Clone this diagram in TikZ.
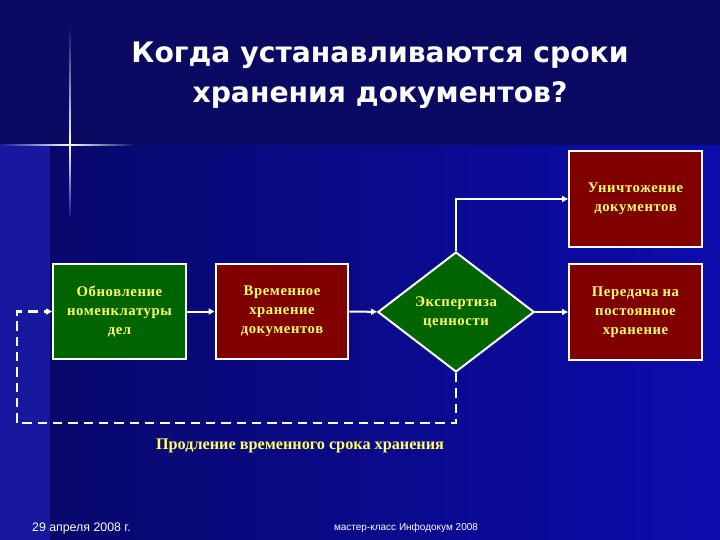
\documentclass[tikz,border=0pt]{standalone}
\usepackage{fontspec}
\setmainfont{Liberation Serif}
\newfontfamily\titlefont{DejaVu Sans}
\newfontfamily\footfont{Liberation Sans}
\newfontfamily\boxfont[LetterSpace=4]{Liberation Serif}
\usepackage{tikz}
\usetikzlibrary{calc,positioning,shapes.geometric,arrows.meta}
\definecolor{navytop}{RGB}{10,10,98}
\definecolor{navydark}{RGB}{8,8,108}
\definecolor{navybright}{RGB}{12,12,172}
\definecolor{stripblue}{RGB}{24,24,158}
\definecolor{boxgreen}{RGB}{0,100,0}
\definecolor{boxred}{RGB}{128,0,0}
\definecolor{textyellow}{RGB}{255,255,102}
\tikzset{
  box/.style={rectangle,draw=white,line width=1.7pt,minimum width=113pt,minimum height=81pt,
    inner sep=2pt,align=center,text=textyellow,font=\boxfont\bfseries\fontsize{12.5}{16}\selectfont},
  greenbox/.style={box,fill=boxgreen},
  redbox/.style={box,fill=boxred},
  decision/.style={diamond,draw=white,line width=1.7pt,fill=boxgreen,aspect=1.3,inner sep=0pt,
    minimum width=133pt,minimum height=102pt,align=center,text=textyellow,
    font=\boxfont\bfseries\fontsize{12.5}{16}\selectfont},
  arr/.style={draw=white,line width=1.7pt,-{Triangle[length=5pt,width=5pt]}},
  loopline/.style={draw=white,line width=2.3pt,dash pattern=on 8pt off 5pt,-{Triangle[length=5pt,width=5pt]}}
}
\begin{document}
\begin{tikzpicture}[x=0.85pt,y=-0.85pt]
\useasboundingbox (0,0) rectangle (720,540);
\fill[navytop] (0,0) rectangle (720,540);
\fill[stripblue] (0,145) rectangle (50,540);
\shade[left color=navydark,right color=navybright] (50,145) rectangle (720,540);
\shade[top color=navytop,bottom color=white] (69.3,25) rectangle (70.7,145);
\shade[top color=white,bottom color=stripblue] (69.3,145) rectangle (70.7,215);
\shade[left color=stripblue,right color=white] (0,144.3) rectangle (70,145.7);
\shade[left color=white,right color=navydark] (70,144.3) rectangle (135,145.7);

\node[text=white,font=\titlefont\bfseries\fontsize{24}{34}\selectfont,align=center] (title) at (380,75)
  {Когда устанавливаются сроки\\хранения документов?};

\node[greenbox] (obn) at (119.5,311.5) {Обновление\\номенклатуры\\дел};
\node[redbox] (vrem) at (282,311.5) {Временное\\хранение\\документов};
\node[decision] (eksp) at (456,312) {Экспертиза\\ценности};
\node[redbox] (unich) at (635.5,199) {Уничтожение\\документов};
\node[redbox] (pered) at (635.5,312) {Передача на\\постоянное\\хранение};

\draw[arr] (obn) -- (vrem);
\draw[arr] (vrem) -- (eksp);
\draw[arr] (eksp.east) -- (pered);
\draw[arr] (eksp.north) |- (unich.west);
\coordinate (low) at (17,423);
\draw[loopline] (eksp.south) |- (low) |- (obn.west);

\node[text=textyellow,font=\bfseries\fontsize{13.8}{15}\selectfont] (prodl) at (300,446)
  {Продление временного срока хранения};
\node[text=white,font=\footfont\fontsize{10.5}{12}\selectfont,anchor=west] (date) at (28,528) {29 апреля 2008 г.};
\node[text=white,font=\footfont\fontsize{8.5}{10}\selectfont] (klass) at (406,528) {мастер-класс Инфодокум 2008};
\end{tikzpicture}
\end{document}
